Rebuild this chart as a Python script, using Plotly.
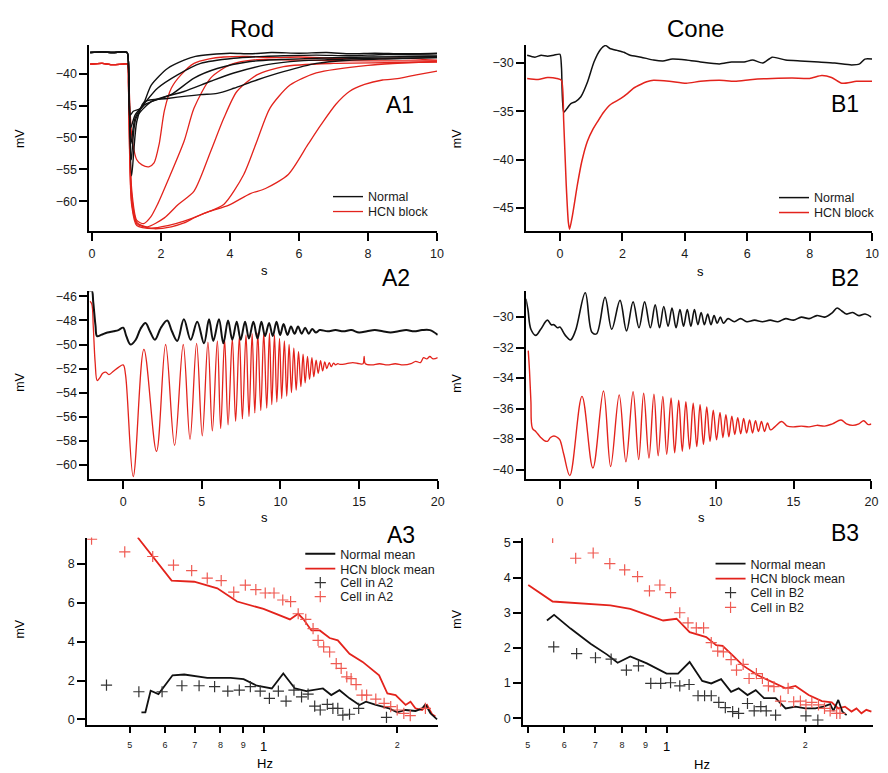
import plotly.graph_objects as go

# ---------------- DATA ----------------
# Panel A1 (Rod, flash responses) : time (s), membrane potential (mV)
A1_normal_base = [(-0.05, -36.7), (0.3, -36.6), (0.6, -36.7), (0.9, -36.6), (1.02, -36.7)]
A1_normal_1 = [(1.07, -40.0), (1.11, -46.5), (1.2, -45.9), (1.43, -45.4), (1.72, -41.8), (2.19, -39.2),
               (2.67, -37.9), (3.0, -37.3), (3.44, -37.0), (4.0, -36.8), (4.6, -36.9), (5.2, -36.7),
               (6.0, -36.8), (6.8, -36.7), (7.5, -36.9), (8.2, -36.8), (9.0, -36.9), (10.0, -36.8)]
A1_normal_2 = [(1.07, -40.5), (1.12, -48.5), (1.25, -46.5), (1.5, -44.8), (1.9, -42.3), (2.48, -40.2),
               (3.15, -38.4), (4.11, -37.6), (5.0, -37.3), (5.55, -37.2), (6.5, -37.1), (7.5, -37.2),
               (8.5, -37.0), (10.0, -37.1)]
A1_normal_3 = [(1.07, -41.0), (1.13, -51.0), (1.25, -47.0), (1.52, -44.9), (2.29, -43.3), (2.96, -40.7),
               (3.63, -39.2), (4.59, -38.1), (5.5, -37.8), (6.5, -37.6), (8.0, -37.4), (10.0, -37.3)]
A1_normal_4 = [(1.07, -41.5), (1.14, -53.5), (1.28, -47.0), (1.72, -44.4), (2.67, -42.8), (3.44, -41.2),
               (4.11, -39.9), (5.07, -38.6), (6.03, -38.0), (7.0, -37.8), (8.0, -37.6), (10.0, -37.5)]
A1_normal_5 = [(1.07, -42.0), (1.15, -56.0), (1.3, -47.5), (1.52, -44.4), (2.19, -43.9), (3.15, -43.3),
               (3.63, -43.1), (4.11, -42.3), (4.78, -41.0), (5.55, -39.7), (6.5, -38.4), (7.46, -37.9),
               (8.5, -37.7), (10.0, -37.5)]

A1_hcn_base = [(-0.05, -38.5), (0.3, -38.4), (0.6, -38.6), (0.9, -38.5), (1.03, -38.5)]
A1_hcn_1 = [(1.06, -40.0), (1.15, -49.5), (1.3, -53.5), (1.45, -54.3), (1.65, -54.6), (1.8, -54.0),
            (1.95, -51.0), (2.1, -45.8), (2.3, -42.3), (2.58, -40.2), (2.96, -38.4), (3.4, -37.7),
            (3.82, -37.4), (4.5, -37.3), (5.2, -37.5), (6.0, -37.4), (7.0, -37.6), (8.0, -37.7),
            (9.0, -37.6), (10.0, -37.9)]
A1_hcn_2 = [(1.06, -41.0), (1.15, -58.0), (1.3, -63.0), (1.5, -63.5), (1.7, -62.5), (1.9, -60.5),
            (2.19, -56.9), (2.67, -50.6), (2.96, -45.4), (3.44, -40.7), (4.01, -38.6), (4.78, -37.8),
            (6.0, -37.9), (8.0, -38.0), (10.0, -38.0)]
A1_hcn_3 = [(1.06, -41.5), (1.15, -59.0), (1.3, -63.3), (1.6, -64.0), (2.1, -62.6), (2.5, -60.5),
            (2.96, -58.4), (3.44, -52.2), (3.82, -47.0), (4.2, -42.8), (4.78, -40.2), (5.55, -38.9),
            (7.0, -38.4), (8.5, -38.3), (10.0, -38.2)]
A1_hcn_4 = [(1.06, -42.0), (1.15, -60.0), (1.3, -63.5), (1.7, -64.2), (2.2, -63.8), (2.67, -63.1),
            (3.2, -62.0), (3.82, -60.5), (4.4, -55.8), (4.78, -50.6), (5.16, -45.4), (5.74, -41.8),
            (6.5, -39.9), (8.0, -38.7), (10.0, -38.1)]
A1_hcn_5 = [(1.06, -42.5), (1.15, -60.5), (1.3, -63.8), (1.8, -64.3), (2.3, -64.0), (2.67, -63.4),
            (3.0, -62.5), (3.4, -61.6), (3.97, -60.6), (4.59, -58.8), (5.03, -58.0), (5.69, -55.8),
            (6.26, -51.1), (6.64, -48.0), (7.07, -44.8), (7.46, -42.8), (7.9, -41.7), (8.42, -41.0),
            (8.85, -40.8), (9.4, -40.2), (10.0, -39.6)]

# Panel B1 (Cone, flash responses)
B1_normal = [(-1.05, -29.2), (-0.8, -29.4), (-0.6, -29.2), (-0.4, -29.3), (-0.2, -29.2), (0.0, -29.1),
             (0.05, -30.5), (0.12, -35.1), (0.25, -34.6), (0.35, -34.2), (0.5, -34.0), (0.67, -33.5),
             (0.88, -32.0), (1.09, -29.9), (1.3, -28.6), (1.46, -28.2), (1.6, -28.5), (1.83, -28.7),
             (2.05, -28.9), (2.25, -29.2), (2.6, -29.4), (3.0, -29.7), (3.3, -29.8), (3.6, -29.6),
             (4.05, -29.7), (4.5, -29.9), (5.11, -30.1), (5.5, -29.9), (5.9, -29.9), (6.17, -29.7),
             (6.5, -30.0), (6.8, -29.4), (7.23, -29.7), (7.7, -29.8), (8.29, -29.9), (8.8, -30.0),
             (9.34, -30.2), (9.6, -30.1), (9.77, -29.6), (10.0, -29.6)]
B1_hcn = [(-1.05, -31.6), (-0.7, -31.7), (-0.4, -31.5), (-0.1, -31.6), (0.05, -31.8), (0.12, -36.0),
          (0.2, -42.5), (0.27, -46.5), (0.31, -47.2), (0.4, -45.8), (0.56, -42.6), (0.7, -40.2),
          (0.88, -38.1), (1.05, -36.9), (1.2, -36.1), (1.4, -35.1), (1.62, -34.3), (1.94, -33.7),
          (2.15, -33.2), (2.36, -32.6), (2.6, -32.2), (2.78, -31.95), (3.0, -31.8), (3.5, -31.9),
          (4.05, -32.1), (4.5, -31.9), (5.11, -31.8), (5.6, -31.9), (6.17, -31.7), (6.8, -31.6),
          (7.44, -31.55), (8.0, -31.6), (8.39, -31.3), (8.7, -31.5), (9.03, -32.1), (9.5, -31.9),
          (10.0, -31.9)]

# Panel A2 (Rod, chirp stimulus) : extrema of the traces
A2_normal = [(-2.19, -45.6), (-2.0, -45.5), (-1.9, -46.5), (-1.76, -48.4), (-1.66, -49.3), (-1.4, -49.2),
             (-1.0, -49.0), (-0.6, -48.9), (-0.3, -48.8), (0.0, -48.6), (0.2, -49.3), (0.47, -50.0),
             (0.8, -49.6), (1.1, -48.7), (1.42, -48.2), (1.7, -48.9), (2.02, -49.6), (2.4, -48.6),
             (2.8, -48.0), (3.1, -48.9), (3.44, -49.7), (3.86, -47.9), (4.29, -49.6), (4.71, -48.1),
             (5.14, -49.9), (5.46, -47.9), (5.73, -49.7), (6.09, -47.9), (6.37, -49.9), (6.67, -48.0),
             (6.94, -49.6), (7.22, -48.1), (7.47, -49.6), (7.75, -48.1), (8.0, -49.5), (8.28, -48.1),
             (8.54, -49.5), (8.79, -48.1), (9.02, -49.3), (9.28, -48.2), (9.51, -49.3), (9.75, -48.1),
             (9.98, -49.2), (10.2, -48.3), (10.45, -49.2), (10.67, -48.5), (10.9, -49.1), (11.12, -48.5),
             (11.35, -49.1), (11.57, -48.6), (11.8, -49.1), (12.02, -48.7), (12.25, -49.0), (12.5, -48.8),
             (13.0, -48.9), (13.5, -48.8), (14.0, -48.9), (14.5, -48.8), (15.0, -49.0), (15.5, -48.9),
             (16.0, -48.8), (16.5, -48.9), (17.0, -49.0), (17.5, -48.9), (18.0, -48.8), (18.5, -48.9),
             (19.0, -48.8), (19.5, -48.8), (20.0, -49.2)]
A2_hcn = [(-2.12, -46.4), (-2.0, -46.6), (-1.9, -48.5), (-1.78, -51.5), (-1.65, -53.0), (-1.5, -52.8),
          (-1.3, -52.4), (-1.1, -52.3), (-0.9, -52.5), (-0.6, -52.2), (-0.3, -51.9), (0.0, -51.7),
          (0.15, -52.5), (0.64, -61.0), (1.32, -50.4), (2.12, -58.9), (2.7, -50.0), (3.27, -58.4),
          (3.82, -50.0), (4.25, -57.9), (4.67, -49.9), (5.03, -57.6), (5.39, -49.8), (5.67, -57.2),
          (5.99, -49.7), (6.2, -57.0), (6.45, -49.6), (6.67, -56.7), (6.94, -49.5), (7.15, -56.4),
          (7.39, -49.3), (7.58, -56.2), (7.81, -49.2), (8.0, -56.0), (8.2, -49.1), (8.37, -55.7),
          (8.56, -49.05), (8.75, -55.5), (8.94, -49.0), (9.13, -55.3), (9.3, -49.05), (9.45, -55.0),
          (9.62, -49.2), (9.77, -54.8), (9.94, -49.5), (10.08, -54.5), (10.25, -49.7), (10.4, -54.3),
          (10.55, -50.0), (10.7, -54.0), (10.85, -50.3), (11.0, -53.8), (11.15, -50.6), (11.3, -53.5),
          (11.44, -50.8), (11.57, -53.2), (11.72, -51.0), (11.85, -52.9), (12.0, -51.1), (12.12, -52.7),
          (12.27, -51.3), (12.4, -52.4), (12.55, -51.35), (12.68, -52.2), (12.82, -51.45), (12.95, -52.0),
          (13.1, -51.5), (13.23, -51.85), (13.38, -51.55), (13.5, -51.7), (13.65, -51.6), (13.78, -51.65),
          (14.2, -51.6), (14.6, -51.5), (15.0, -51.6), (15.25, -51.6), (15.32, -51.0), (15.4, -51.6),
          (15.8, -51.7), (16.3, -51.6), (16.8, -51.7), (17.3, -51.6), (17.8, -51.7), (18.3, -51.6),
          (18.6, -51.4), (18.9, -51.5), (19.1, -51.1), (19.3, -51.2), (19.5, -51.0), (19.7, -51.2),
          (20.0, -51.1)]

# Panel B2 (Cone, chirp stimulus)
B2_normal = [(-2.18, -28.8), (-2.05, -29.5), (-1.86, -30.8), (-1.55, -31.2), (-1.23, -30.8), (-0.8, -30.2),
             (-0.55, -30.5), (-0.38, -30.5), (-0.15, -30.7), (0.0, -30.65), (0.35, -31.2), (0.68, -31.5),
             (1.0, -30.9), (1.63, -28.4), (2.06, -31.0), (2.35, -31.1), (2.9, -28.7), (3.33, -30.8),
             (3.86, -28.9), (4.28, -30.9), (4.7, -29.0), (5.08, -30.7), (5.44, -29.0), (5.81, -30.7),
             (6.12, -29.2), (6.4, -30.7), (6.67, -29.3), (6.95, -30.6), (7.2, -29.4), (7.46, -30.7),
             (7.71, -29.5), (7.94, -30.6), (8.18, -29.5), (8.41, -30.6), (8.64, -29.5), (8.86, -30.5),
             (9.07, -29.7), (9.28, -30.5), (9.49, -29.8), (9.7, -30.5), (9.9, -29.9), (10.1, -30.4),
             (10.3, -30.0), (10.5, -30.4), (10.8, -30.1), (11.2, -30.3), (11.6, -30.1), (12.0, -30.3),
             (12.5, -30.2), (13.0, -30.3), (13.5, -30.2), (14.0, -30.3), (14.5, -30.1), (15.0, -30.2),
             (15.5, -30.0), (16.0, -30.1), (16.5, -29.9), (17.0, -30.0), (17.5, -29.7), (17.8, -29.4),
             (18.1, -29.6), (18.4, -29.8), (18.8, -29.7), (19.2, -29.9), (19.6, -29.8), (20.0, -30.0)]
B2_hcn = [(-2.03, -32.2), (-1.95, -33.5), (-1.86, -35.5), (-1.76, -37.3), (-1.55, -37.5), (-1.23, -37.9),
          (-1.0, -38.1), (-0.8, -38.15), (-0.6, -37.9), (-0.38, -37.8), (-0.15, -37.9), (0.0, -38.05),
          (0.25, -39.0), (0.64, -40.4), (1.42, -35.2), (2.12, -39.9), (2.8, -34.85), (3.26, -39.8),
          (3.81, -35.1), (4.24, -39.5), (4.7, -34.9), (5.06, -39.35), (5.38, -35.0), (5.72, -39.25),
          (6.04, -35.05), (6.31, -39.1), (6.61, -35.2), (6.86, -39.0), (7.14, -35.3), (7.37, -38.9),
          (7.63, -35.45), (7.86, -38.8), (8.09, -35.55), (8.33, -38.65), (8.56, -35.65), (8.79, -38.5),
          (9.0, -35.75), (9.22, -38.35), (9.43, -35.9), (9.64, -38.15), (9.85, -36.1), (10.06, -38.05),
          (10.28, -36.25), (10.47, -37.9), (10.66, -36.4), (10.85, -37.85), (11.04, -36.5), (11.23, -37.7),
          (11.42, -36.6), (11.61, -37.65), (11.8, -36.65), (11.99, -37.6), (12.18, -36.75), (12.37, -37.6),
          (12.56, -36.8), (12.75, -37.5), (12.94, -36.85), (13.14, -37.5), (13.33, -36.95), (13.52, -37.4),
          (13.8, -37.2), (14.24, -36.85), (14.6, -37.15), (15.0, -37.2), (15.5, -37.15), (16.0, -37.2),
          (16.5, -37.1), (17.0, -37.15), (17.5, -37.0), (18.05, -36.75), (18.4, -37.0), (18.8, -37.1),
          (19.2, -37.0), (19.5, -36.8), (19.8, -37.05), (20.0, -37.0)]

# Panel A3 (Rod, amplitude vs frequency) : Hz, mV
A3_normal_mean = [(0.531, 0.36), (0.542, 0.36), (0.557, 1.47), (0.580, 1.30), (0.624, 2.27), (0.663, 2.31),
                  (0.747, 2.14), (0.843, 2.14), (0.902, 2.07), (0.966, 1.73), (1.044, 1.59), (1.108, 2.36),
                  (1.177, 1.59), (1.249, 1.45), (1.361, 1.59), (1.421, 1.25), (1.483, 1.50), (1.562, 1.08),
                  (1.644, 0.74), (1.701, 0.91), (1.791, 0.74), (1.918, 0.56), (2.000, 0.36), (2.089, 0.48),
                  (2.199, 0.43), (2.276, 0.56), (2.315, 0.77), (2.376, 0.31), (2.459, 0.0)]
A3_hcn_mean = [(0.521, 9.37), (0.568, 8.26), (0.621, 7.15), (0.698, 7.09), (0.787, 6.75), (0.872, 6.07),
               (1.000, 5.69), (1.147, 5.15), (1.197, 5.44), (1.228, 5.18), (1.282, 4.58), (1.339, 4.58),
               (1.409, 4.19), (1.470, 4.07), (1.562, 3.38), (1.672, 2.96), (1.821, 2.27), (1.901, 1.33),
               (1.984, 1.25), (2.089, 0.74), (2.143, 0.91), (2.200, 0.56), (2.276, 0.48), (2.335, 0.74),
               (2.396, 0.26), (2.438, 0.14)]
A3_cell_normal = [(0.443, 1.76), (0.524, 1.42), (0.591, 1.42), (0.655, 1.73), (0.716, 1.73), (0.776, 1.68),
                  (0.831, 1.45), (0.882, 1.50), (0.934, 1.68), (0.983, 1.45), (1.031, 1.08), (1.080, 1.45),
                  (1.124, 0.94), (1.171, 1.50), (1.218, 1.16), (1.260, 1.30), (1.304, 0.68), (1.342, 0.48),
                  (1.392, 0.77), (1.433, 0.56), (1.470, 0.56), (1.509, 0.22), (1.562, 0.26), (1.638, 0.56),
                  (1.892, 0.10)]
A3_cell_hcn = [(0.410, 9.28), (0.487, 8.63), (0.563, 8.39), (0.627, 7.95), (0.689, 7.66), (0.747, 7.28),
               (0.803, 7.15), (0.857, 6.55), (0.910, 6.92), (0.961, 6.68), (1.009, 6.51), (1.056, 6.51),
               (1.105, 6.15), (1.151, 6.07), (1.197, 5.44), (1.245, 5.15), (1.293, 4.67), (1.327, 4.07),
               (1.366, 3.73), (1.409, 3.47), (1.458, 2.87), (1.496, 2.62), (1.540, 2.19), (1.575, 2.10),
               (1.616, 1.79), (1.666, 1.25), (1.707, 1.25), (1.790, 1.04), (1.869, 0.82), (1.934, 0.65),
               (2.000, 0.48), (2.070, 0.31), (2.140, 0.19), (2.315, 0.56)]

# Panel B3 (Cone, amplitude vs frequency)
B3_normal_mean = [(0.550, 2.78), (0.570, 2.94), (0.619, 2.55), (0.684, 2.12), (0.743, 1.81), (0.783, 1.58),
                  (0.834, 1.76), (0.906, 1.56), (1.000, 1.27), (1.059, 1.27), (1.122, 1.60), (1.195, 1.06),
                  (1.250, 0.99), (1.313, 1.11), (1.380, 0.75), (1.433, 0.85), (1.498, 0.66), (1.561, 0.80),
                  (1.627, 0.57), (1.724, 0.57), (1.812, 0.28), (1.904, 0.33), (2.000, 0.28), (2.102, 0.28),
                  (2.190, 0.33), (2.264, 0.40), (2.301, 0.21), (2.358, 0.52), (2.406, 0.19), (2.458, 0.09)]
B3_hcn_mean = [(0.501, 3.79), (0.566, 3.32), (0.755, 3.21), (0.834, 3.11), (0.983, 2.78), (1.051, 2.83),
               (1.122, 2.45), (1.219, 2.31), (1.281, 2.08), (1.323, 2.06), (1.391, 1.79), (1.461, 1.51),
               (1.574, 1.23), (1.695, 1.04), (1.812, 0.85), (1.904, 0.92), (2.033, 0.66), (2.172, 0.49),
               (2.282, 0.45), (2.358, 0.28), (2.438, 0.33), (2.519, 0.19), (2.582, 0.28), (2.647, 0.14),
               (2.713, 0.24), (2.782, 0.19)]
B3_cell_normal = [(0.569, 2.03), (0.638, 1.84), (0.701, 1.72), (0.758, 1.68), (0.818, 1.37), (0.869, 1.49),
                  (0.924, 0.99), (0.971, 0.99), (1.020, 1.01), (1.068, 0.92), (1.119, 0.96), (1.170, 0.64),
                  (1.209, 0.64), (1.250, 0.64), (1.298, 0.45), (1.341, 0.30), (1.391, 0.19), (1.433, 0.14),
                  (1.498, 0.42), (1.549, 0.21), (1.601, 0.33), (1.645, 0.21), (1.724, 0.09), (2.006, 0.07),
                  (2.129, -0.05)]
B3_cell_hcn = [(0.566, 5.14), (0.635, 4.55), (0.693, 4.70), (0.753, 4.40), (0.811, 4.22), (0.865, 4.03),
               (0.918, 3.62), (0.967, 3.79), (1.020, 3.57), (1.068, 3.00), (1.113, 2.71), (1.160, 2.57),
               (1.203, 2.57), (1.250, 2.15), (1.291, 1.91), (1.328, 1.89), (1.380, 1.67), (1.418, 1.37),
               (1.466, 1.53), (1.510, 1.13), (1.566, 1.27), (1.614, 1.13), (1.663, 0.92), (1.710, 0.90),
               (1.767, 0.49), (1.835, 0.85), (1.887, 0.47), (1.951, 0.49), (2.006, 0.38), (2.066, 0.45),
               (2.136, 0.38), (2.201, 0.28), (2.264, 0.21), (2.339, 0.14), (2.378, 0.14)]

# Tick labels
LOG_TICK_VALUES = [0.5, 0.6, 0.7, 0.8, 0.9, 1, 2]
LOG_TICK_TEXT = ["5", "6", "7", "8", "9", "", "2"]

# ---------------- FIGURE ----------------
W, H = 888, 773
FONT = "Liberation Sans, Arial, Helvetica, sans-serif"
RED = "#e3231c"
RED_MARK = "#ef5a52"
BLACK = "#111111"
GREY_MARK = "#333333"


def fx(p):
    return p / W


def fy(p):
    return 1 - p / H


def xy(pairs):
    return [p[0] for p in pairs], [p[1] for p in pairs]


fig = go.Figure()


def add_line(pairs, ax, color, width, name, legend, show, shape="linear", smooth=1.0):
    x, y = xy(pairs)
    line = dict(color=color, width=width, shape=shape)
    if shape == "spline":
        line["smoothing"] = smooth
    fig.add_trace(go.Scatter(x=x, y=y, mode="lines", xaxis="x" + ax, yaxis="y" + ax, line=line,
                             name=name, legend=legend, showlegend=show,
                             legendgroup=legend, hoverinfo="skip"))


def add_marks(pairs, ax, color, name, legend):
    x, y = xy(pairs)
    fig.add_trace(go.Scatter(x=x, y=y, mode="markers", xaxis="x" + ax, yaxis="y" + ax,
                             marker=dict(symbol="cross-thin", size=8, color=color,
                                         line=dict(color=color, width=1.2)),
                             name=name, legend=legend, hoverinfo="skip"))


# one legend per entry so that every row sits where the reference has it
# A1  (legend = Normal, legend2 = HCN block)
for i, tr in enumerate([A1_hcn_1, A1_hcn_2, A1_hcn_3, A1_hcn_4, A1_hcn_5]):
    add_line(A1_hcn_base + tr, "", RED, 1.3, "HCN block", "legend2", i == 0, "spline", 0.7)
for i, tr in enumerate([A1_normal_1, A1_normal_2, A1_normal_3, A1_normal_4, A1_normal_5]):
    add_line(A1_normal_base + tr, "", BLACK, 1.4, "Normal", "legend", i == 0, "spline", 0.7)
# B1
add_line(B1_normal, "2", BLACK, 1.5, "Normal", "legend3", True, "spline", 0.6)
add_line(B1_hcn, "2", RED, 1.5, "HCN block", "legend4", True, "spline", 0.6)
# A2
add_line(A2_hcn, "3", RED, 1.3, "HCN block", "legend", False, "spline")
add_line(A2_normal, "3", BLACK, 2.0, "Normal", "legend", False, "spline")
# B2
add_line(B2_normal, "4", BLACK, 1.6, "Normal", "legend", False, "spline")
add_line(B2_hcn, "4", RED, 1.4, "HCN block", "legend", False, "spline")
# A3
add_line(A3_hcn_mean, "5", RED, 1.8, "HCN block mean", "legend6", True)
add_line(A3_normal_mean, "5", BLACK, 1.8, "Normal mean", "legend5", True)
add_marks(A3_cell_normal, "5", GREY_MARK, "Cell in A2", "legend7")
add_marks(A3_cell_hcn, "5", RED_MARK, "Cell in A2", "legend8")
# B3
add_line(B3_hcn_mean, "6", RED, 1.8, "HCN block mean", "legend10", True)
add_line(B3_normal_mean, "6", BLACK, 1.8, "Normal mean", "legend9", True)
add_marks(B3_cell_normal, "6", GREY_MARK, "Cell in B2", "legend11")
add_marks(B3_cell_hcn, "6", RED_MARK, "Cell in B2", "legend12")

axis_common = dict(showline=True, linecolor="black", linewidth=2, ticks="outside", ticklen=8,
                   tickwidth=1.5, tickcolor="black", showgrid=False, zeroline=False,
                   tickfont=dict(family=FONT, size=12.5, color="#1a1a1a"), fixedrange=True)

# pixel boxes of plot areas: (left, right, top, bottom)
boxes = {
    "": (89.3, 440.0, 43.3, 230.0),
    "2": (530.0, 879.0, 43.3, 230.0),
    "3": (89.3, 440.7, 290.7, 479.0),
    "4": (530.0, 878.3, 290.7, 479.0),
    "5": (87.0, 441.0, 538.3, 726.7),
    "6": (527.0, 880.0, 539.0, 726.7),
}
xranges = {"": [-0.07, 10.0], "2": [-1.08, 10.0], "3": [-2.14, 20.0], "4": [-2.16, 20.0],
           "5": [-0.397, 0.393], "6": [-0.311, 0.448]}
yranges = {"": [-64.63, -35.53], "2": [-47.37, -28.15], "3": [-61.16, -45.56], "4": [-40.59, -28.3],
           "5": [-0.29, 9.37], "6": [-0.19, 5.12]}
xticks = {"": [0, 2, 4, 6, 8, 10], "2": [0, 2, 4, 6, 8, 10], "3": [0, 5, 10, 15, 20],
          "4": [0, 5, 10, 15, 20]}
yticks = {"": [-60, -55, -50, -45, -40], "2": [-45, -40, -35, -30],
          "3": [-60, -58, -56, -54, -52, -50, -48, -46], "4": [-40, -38, -36, -34, -32, -30],
          "5": [0, 2, 4, 6, 8], "6": [0, 1, 2, 3, 4, 5]}

layout = dict(width=W, height=H, margin=dict(l=0, r=0, t=0, b=0), paper_bgcolor="white",
              plot_bgcolor="white", font=dict(family=FONT, color="black"), hovermode=False)
for ax, (l, r, t, b) in boxes.items():
    xa = dict(axis_common, domain=[fx(l), fx(r)], range=xranges[ax], anchor="y" + ax)
    if ax in ("5", "6"):
        xa.update(type="log", tickmode="array", tickvals=LOG_TICK_VALUES, ticktext=LOG_TICK_TEXT,
                  ticklen=6, tickfont=dict(family=FONT, size=9, color="#1a1a1a"),
                  ticklabelstandoff=4)
    else:
        xa.update(tickmode="array", tickvals=xticks[ax], ticklabelstandoff=2)
    ya = dict(axis_common, domain=[fy(b), fy(t)], range=yranges[ax], anchor="x" + ax,
              tickmode="array", tickvals=yticks[ax])
    layout["xaxis" + ax] = xa
    layout["yaxis" + ax] = ya

leg_common = dict(bgcolor="rgba(0,0,0,0)", font=dict(family=FONT, size=12.5, color="#1a1a1a"),
                  xanchor="left", yanchor="middle", itemclick=False, itemdoubleclick=False)
# (legend name, left px, row centre px)
legend_rows = [("legend", 330, 196), ("legend2", 330, 211),
               ("legend3", 780, 197), ("legend4", 780, 212),
               ("legend5", 302, 555), ("legend6", 302, 570), ("legend7", 302, 584), ("legend8", 302, 598),
               ("legend9", 716, 565), ("legend10", 716, 580), ("legend11", 716, 594), ("legend12", 716, 609)]
for name, lx, ly in legend_rows:
    layout[name] = dict(leg_common, x=fx(lx), y=fy(ly))

ann = []


def text(s, x, y, size, angle=0, xref="paper"):
    ann.append(dict(text=s, x=x if xref != "paper" else fx(x), y=fy(y), xref=xref, yref="paper",
                    showarrow=False, xanchor="center", yanchor="middle", textangle=angle,
                    font=dict(family=FONT, size=size, color="black")))


text("Rod", 253, 27, 24)
text("Cone", 701, 27, 24)
for lab, x, y in [("A1", 403, 104), ("B1", 852, 103), ("A2", 399, 277), ("B2", 852, 277),
                  ("A3", 404, 536), ("B3", 852, 534)]:
    text(lab, x, y, 23)
for x, y in [(19, 137), (460, 137), (19, 382), (460, 383), (19, 630), (460, 620)]:
    text("mV", x, y, 12.5, -90)
for x, y in [(266, 270), (706, 271), (266, 518), (707, 518)]:
    text("s", x, y, 13)
text("Hz", 266, 765, 13)
text("Hz", 707, 766, 13)
# the decade label "1" of the log axes (x given in log10 units for log axes)
text("1", 0, 748, 13, xref="x5")
text("1", 0, 748, 13, xref="x6")
layout["annotations"] = ann

fig.update_layout(**layout)
fig.write_html("out.html", config={"displayModeBar": False},
               post_script="document.body.style.margin='0';document.body.style.padding='0';"
                           "document.body.style.overflow='hidden';")
